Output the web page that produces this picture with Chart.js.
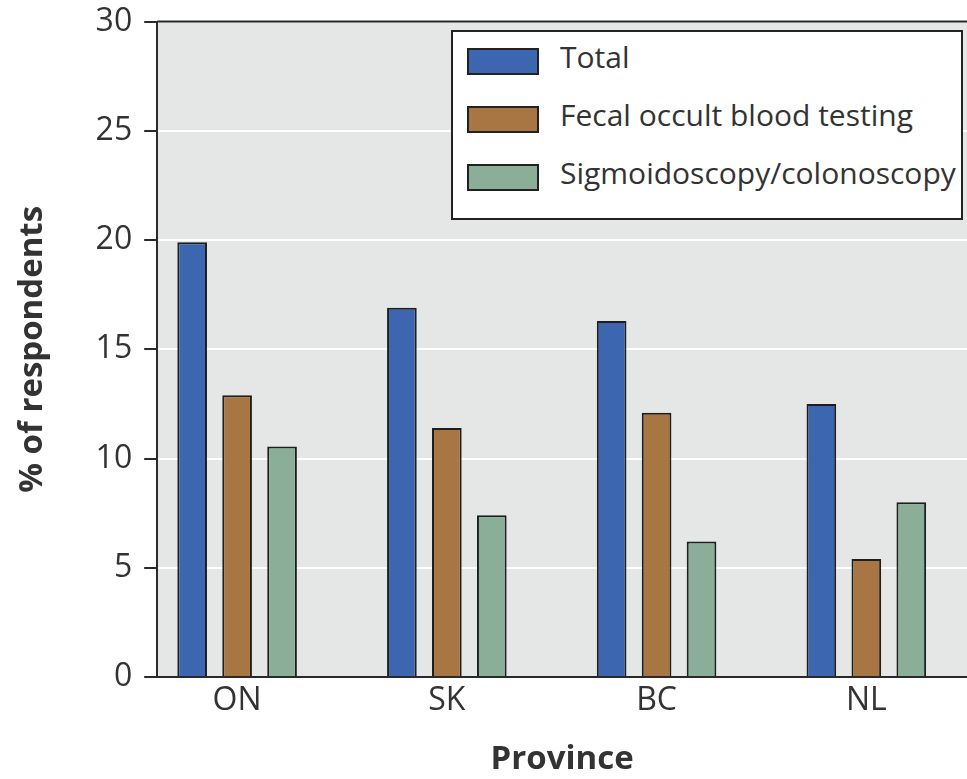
<!DOCTYPE html>
<html>
<head>
<meta charset="utf-8">
<script src="https://cdn.jsdelivr.net/npm/chart.js@4.4.1/dist/chart.umd.min.js"></script>
<style>
  body { margin: 0; background: #fff; overflow: hidden; }
  #wrap { position: relative; width: 967px; height: 779px; }
  #legend { position: absolute; left: 451px; top: 30px; width: 508px; height: 186px;
    background: #fff; border: 2px solid #222; font-family: "Open Sans", sans-serif; font-size: 30px; color: #333; }
  .item { position: absolute; left: 14px; height: 30px; }
  .sw { position: absolute; left: 0; top: 2px; width: 68px; height: 23px; border: 2px solid #222; }
  .lbl { position: absolute; left: 93px; top: -10px; white-space: nowrap; }
</style>
</head>
<body>
<div id="wrap">
  <canvas id="chart-1"></canvas>
  <div id="legend"></div>
</div>
<script>
const provinces = ["ON", "SK", "BC", "NL"];
const seriesNames = ["Total", "Fecal occult blood testing", "Sigmoidoscopy/colonoscopy"];
const total = [19.9, 16.9, 16.3, 12.5];
const fobt = [12.9, 11.4, 12.1, 5.4];
const sigmo = [10.55, 7.4, 6.2, 8.0];
const colors = ["#3d66b0", "#a87642", "#8aae98"];

const allSeries = [total, fobt, sigmo];

// legend built as html
const legend = document.getElementById("legend");
seriesNames.forEach(function (name, i) {
  const it = document.createElement("div");
  it.className = "item";
  it.style.top = (14 + i * 58) + "px";
  it.innerHTML = '<div class="sw" style="background:' + colors[i] + '"></div><div class="lbl">' + name + '</div>';
  legend.appendChild(it);
});

const plotBg = {
  id: "plotBg",
  beforeDraw: function (chart) {
    const a = chart.chartArea, c = chart.ctx;
    c.save();
    c.fillStyle = "#e4e7e6";
    c.fillRect(a.left, a.top, a.right - a.left, a.bottom - a.top);
    c.restore();
  },
  afterDraw: function (chart) {
    const a = chart.chartArea, c = chart.ctx;
    c.save();
    c.strokeStyle = "#2a2a2a";
    c.lineWidth = 2;
    c.beginPath();
    c.moveTo(a.left, a.top);
    c.lineTo(a.right, a.top);
    c.stroke();
    c.restore();
  }
};

const ctx1 = document.getElementById("chart-1").getContext("2d");
const myChart1 = new Chart(ctx1, {
  type: "bar",
  data: {
    datasets: allSeries.map(function (vals, i) {
      return {
        label: seriesNames[i],
        data: vals.map(function (v, j) { return { x: j, y: v }; }),
        backgroundColor: colors[i],
        borderColor: "#1e1e1e",
        borderWidth: 2,
        barPercentage: 0.66,
        categoryPercentage: 0.643
      };
    })
  },
  options: {
    responsive: true,
    maintainAspectRatio: false,
    animation: false,
    layout: { padding: { top: 0, right: 0, left: 13, bottom: 0 } },
    plugins: {
      legend: { display: false },
      tooltip: { enabled: false }
    },
    scales: {
      x: {
        type: "linear",
        offset: false,
        min: -0.381,
        max: 3.48,
        afterBuildTicks: function (scale) {
          scale.ticks = provinces.map(function (p, i) { return { value: i }; });
        },
        grid: { display: true, color: "rgba(0,0,0,0)", drawTicks: false },
        border: { display: true, color: "#2a2a2a", width: 2 },
        ticks: {
          padding: 5,
          color: "#333",
          font: { family: "Open Sans", size: 32 },
          callback: function (v) { return provinces[v]; }
        },
        title: {
          display: true,
          text: "Province",
          color: "#333",
          font: { family: "Open Sans", size: 33, weight: "bold" },
          padding: { top: 14, bottom: 0 }
        }
      },
      y: {
        min: 0,
        max: 30,
        ticks: {
          stepSize: 5,
          padding: 12,
          color: "#333",
          font: { family: "Open Sans", size: 32, lineHeight: 0.6 }
        },
        grid: {
          lineWidth: 2,
          tickLength: 13,
          tickColor: "#2a2a2a",
          color: function (c) {
            return (c.tick && (c.tick.value === 0 || c.tick.value === 30)) ? "rgba(0,0,0,0)" : "#ffffff";
          }
        },
        border: { display: true, color: "#2a2a2a", width: 2 },
        title: {
          display: true,
          text: "% of respondents",
          color: "#333",
          font: { family: "Open Sans", size: 33, weight: "bold" },
          padding: { top: 0, bottom: 31 }
        }
      }
    }
  },
  plugins: [plotBg]
});
</script>
</body>
</html>
